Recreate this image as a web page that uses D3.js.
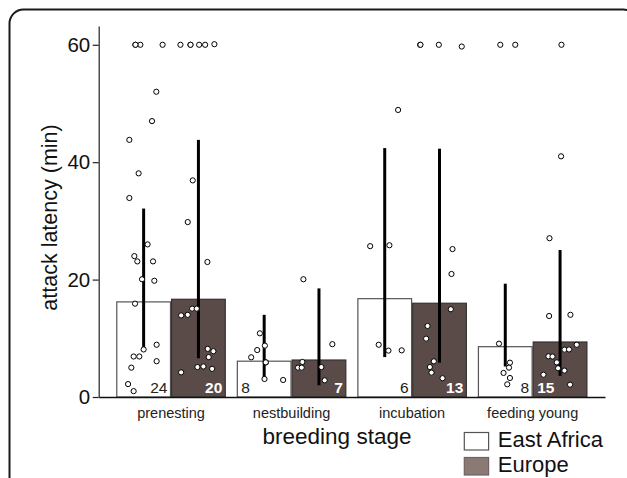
<!DOCTYPE html>
<html>
<head>
<meta charset="utf-8">
<script src="https://cdn.jsdelivr.net/npm/d3@7/dist/d3.min.js"></script>
<style>
  body { margin: 0; background: #fff; }
  svg text { font-family: "Liberation Sans", Arial, Helvetica, sans-serif; }
</style>
</head>
<body>
<svg id="chart"></svg>
<script>
(function(){

    var W = 627, H = 478;
    var margin = {top: 26, right: 22, bottom: 81, left: 98.7};
    var width = W - margin.left - margin.right;
    var height = H - margin.top - margin.bottom;

    // data
    var stages = ["prenesting", "nestbuilding", "incubation", "feeding young"];
    var regions = ["East Africa", "Europe"];

    var meanEA = [16.2, 6.1, 16.75, 8.57];
    var meanEU = [16.65, 6.3, 15.97, 9.37];

    var lowEA  = [8.2, 2.9, 6.8, 5.2];
    var highEA = [32.1, 14.0, 42.4, 19.3];
    var lowEU  = [6.6, 2.0, 5.85, 3.6];
    var highEU = [43.8, 18.5, 42.3, 25.05];

    var countEA = [24, 8, 6, 8];
    var countEU = [20, 7, 13, 15];
    var countSideEA = ["right", "left", "right", "right"];
    var countSideEU = ["right", "right", "right", "left"];

    // individual observations: [value, jitter as fraction of bar width]
    var ptsPrenEA = [[60,-0.154],[60,-0.061],[60,-0.152],[60,0.353],[52,0.236],[47,0.156],
        [43.8,-0.266],[38.1,-0.093],[33.9,-0.266],[26,0.074],[24,-0.173],[23.1,-0.117],
        [23.1,0.175],[20.06,-0.03],[19.8,0.199],[15.9,-0.16],[8.1,0],[8.9,0.242],
        [6.9,-0.186],[6.9,-0.08],[6.1,0.242],[5,-0.229],[2.2,-0.29],[1,-0.186]];
    var ptsPrenEU = [[60,-0.335],[60,-0.149],[60,0.013],[60,0.125],[60.1,0.297],[60,-0.147],
        [36.9,-0.106],[29.8,-0.199],[23,0.167],[15.05,-0.117],[15.05,-0.032],[13.9,-0.322],
        [14,-0.199],[8.2,0.173],[7.8,0.279],[6.8,0.191],[5.1,-0.019],[5.2,0.093],
        [4.8,0.255],[4.2,-0.322]];
    var ptsNestEA = [[10.85,-0.08],[8.75,0.013],[8,-0.13],[6.76,-0.242],[5.9,0.032],
        [5.9,0.03],[3.07,0.006],[2.9,0.353]];
    var ptsNestEU = [[20.06,-0.29],[9,0.249],[5.97,-0.309],[5,-0.39],[5,-0.322],
        [5.1,0.045],[2.84,0.106]];
    var ptsIncEA = [[48.9,0.249],[25.7,-0.271],[25.85,0.087],[8.9,-0.112],[7.9,0.069],
        [7.95,0.316]];
    var ptsIncEU = [[60,-0.361],[60,-0.355],[60,-0.013],[59.7,0.414],[25.2,0.242],
        [20.96,0.223],[14.95,0.21],[12.1,-0.223],[9.94,-0.249],[6.08,-0.106],
        [5.1,-0.18],[4.15,-0.149],[3.2,0.056]];
    var ptsFeedEA = [[60,-0.093],[60,0.186],[9.08,-0.117],[5.85,0.087],[5,0.069],
        [4.1,-0.032],[3.24,0.087],[2.16,0.037]];
    var ptsFeedEU = [[60,0.026],[41,0.019],[27.05,-0.197],[13.8,-0.204],[14,0.193],
        [8.9,0.31],[8.07,0.082],[8.1,0.167],[6.93,-0.216],[6.9,-0.141],[5.9,-0.061],
        [4.9,-0.037],[4.5,0.082],[3.8,-0.309],[2.1,0.186]];

    var yTicks = [0, 20, 40, 60];

    var fillColor = {"East Africa": "#ffffff", "Europe": "#5b4b48"};
    var legendFill = {"East Africa": "#ffffff", "Europe": "#8b7975"};

    // build rows for drawing
    var ptsEA = [ptsPrenEA, ptsNestEA, ptsIncEA, ptsFeedEA];
    var ptsEU = [ptsPrenEU, ptsNestEU, ptsIncEU, ptsFeedEU];
    var rows = [];
    stages.forEach(function(s, i) {
        rows.push({stage: s, region: "East Africa", mean: meanEA[i], lo: lowEA[i], hi: highEA[i],
                   n: countEA[i], side: countSideEA[i], pts: ptsEA[i]});
        rows.push({stage: s, region: "Europe", mean: meanEU[i], lo: lowEU[i], hi: highEU[i],
                   n: countEU[i], side: countSideEU[i], pts: ptsEU[i]});
    });

    var root = d3.select("svg#chart")
        .attr("width", W)
        .attr("height", H);

    // rounded frame (runs off the right and bottom of the crop)
    root.append("rect")
        .attr("x", 9.5).attr("y", 9.5)
        .attr("width", 628).attr("height", 520)
        .attr("rx", 14)
        .style("fill", "none")
        .style("stroke", "#1a1a1a")
        .style("stroke-width", 2);

    var svg = root.append("g")
        .attr("transform", "translate(" + margin.left + "," + margin.top + ")");

    var x0 = d3.scaleBand()
        .domain(stages)
        .range([0, width])
        .paddingInner(0.1)
        .paddingOuter(0.15);

    var x1 = d3.scaleBand()
        .domain(regions)
        .range([0, x0.bandwidth()])
        .paddingInner(0.02);

    var yScale = d3.scaleLinear()
        .domain([0, 63.2])
        .range([height, 0]);

    function cx(d) { return x0(d.stage) + x1(d.region) + x1.bandwidth() / 2; }

    // bars
    svg.append("g")
        .selectAll("rect")
        .data(rows)
        .enter()
        .append("rect")
        .attr("x", function(d) { return x0(d.stage) + x1(d.region); })
        .attr("y", function(d) { return yScale(d.mean); })
        .attr("width", x1.bandwidth())
        .attr("height", function(d) { return yScale(0) - yScale(d.mean); })
        .style("fill", function(d) { return fillColor[d.region]; })
        .style("stroke", function(d) { return d.region == "Europe" ? "#333" : "#555"; })
        .style("stroke-width", 1.2);

    // sample sizes
    svg.append("g")
        .selectAll("text")
        .data(rows)
        .enter()
        .append("text")
        .attr("x", function(d) {
            var left = x0(d.stage) + x1(d.region);
            return d.side == "right" ? left + x1.bandwidth() - 3 : left + 4;
        })
        .attr("y", yScale(0) - 4)
        .attr("text-anchor", function(d) { return d.side == "right" ? "end" : "start"; })
        .style("font-size", "15.5px")
        .style("font-weight", function(d) { return d.region == "Europe" ? "bold" : "normal"; })
        .style("fill", function(d) { return d.region == "Europe" ? "#fff" : "#222"; })
        .text(function(d) { return d.n; });

    // range lines
    svg.append("g")
        .selectAll("line")
        .data(rows)
        .enter()
        .append("line")
        .attr("x1", cx).attr("x2", cx)
        .attr("y1", function(d) { return yScale(d.lo); })
        .attr("y2", function(d) { return yScale(d.hi); })
        .style("stroke", "#000")
        .style("stroke-width", 3);

    // raw points
    var flat = [];
    rows.forEach(function(r) {
        r.pts.forEach(function(p) { flat.push({row: r, v: p[0], j: p[1]}); });
    });

    svg.append("g")
        .selectAll("circle")
        .data(flat)
        .enter()
        .append("circle")
        .attr("cx", function(d) { return cx(d.row) + d.j * x1.bandwidth(); })
        .attr("cy", function(d) { return yScale(d.v); })
        .attr("r", 2.6)
        .style("fill", "#fff")
        .style("stroke", "#000")
        .style("stroke-width", 1);

    // axes
    var yAxis = svg.append("g")
        .call(d3.axisLeft(yScale).tickValues(yTicks).tickSize(6).tickSizeOuter(0).tickPadding(2.5));
    yAxis.selectAll("text").style("font-size", "20.5px").style("fill", "#111");
    yAxis.selectAll("line, path").style("stroke", "#222").style("stroke-width", 1.2);

    var xAxis = svg.append("g")
        .attr("transform", "translate(0," + height + ")")
        .call(d3.axisBottom(x0).tickSize(0).tickSizeOuter(0).tickPadding(11));
    xAxis.selectAll("text").style("font-size", "14.5px").style("fill", "#222");
    xAxis.select("path").style("stroke", "#111").style("stroke-width", 1.5);

    svg.append("text")
        .attr("transform", "translate(" + (57 - margin.left) + "," + (217.5 - margin.top) + ") rotate(-90)")
        .attr("text-anchor", "middle")
        .style("font-size", "21.5px")
        .style("fill", "#111")
        .text("attack latency (min)");

    svg.append("text")
        .attr("x", 337 - margin.left)
        .attr("y", 444 - margin.top)
        .attr("text-anchor", "middle")
        .style("font-size", "22.5px")
        .style("fill", "#111")
        .text("breeding stage");

    // legend
    var legend = root.append("g")
        .attr("transform", "translate(464.3,432.5)");

    var item = legend.selectAll("g")
        .data(regions)
        .enter()
        .append("g")
        .attr("transform", function(d, i) { return "translate(0," + (i * 25) + ")"; });

    item.append("rect")
        .attr("width", 24.3)
        .attr("height", 17.5)
        .style("fill", function(d) { return legendFill[d]; })
        .style("stroke", function(d) { return d == "Europe" ? "#6f6360" : "#555"; })
        .style("stroke-width", 1.2);

    item.append("text")
        .attr("x", 33.5)
        .attr("y", 14)
        .style("font-size", "22px")
        .style("fill", "#111")
        .text(function(d) { return d; });

})();
</script>
</body>
</html>
